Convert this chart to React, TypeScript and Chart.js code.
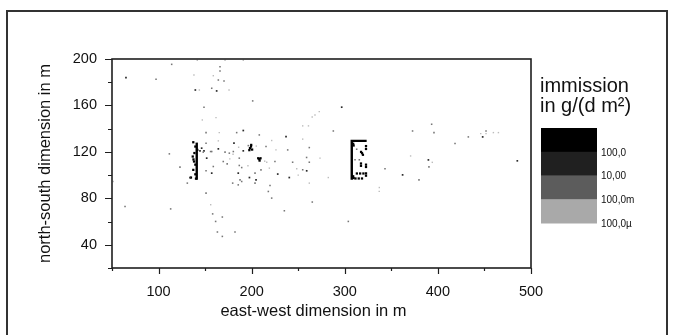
import React, { useEffect, useRef } from 'react';
import { Chart, registerables } from 'chart.js';

Chart.register(...registerables);

// ---- axis ranges / tick labels ----
const xRange = [50, 500];
const yRange = [20, 200];
const xStep = 50;
const yStep = 20;
const xLabelEvery = 100;
const yLabelEvery = 40;
const xTitle = 'east-west dimension in m';
const yTitle = 'north-south dimension in m';

// ---- legend (immission classes) ----
const legendTitle = ['immission', 'in g/(d m²)'];
const legendColors = ['#000000', '#202020', '#5c5c5c', '#a9a9a9'];
const legendLabels = ['100,0', '10,00', '100,0m', '100,0µ'];

// ---- immission cells, by class (x, y in m) ----
const lightPts = [
  [141.6, 198.9], [171.4, 198.9], [191, 198.9], [138, 186.2], [158.8, 185.6], [143.8, 173.3],
  [175.7, 173.3], [147, 147.5], [161.7, 149.5], [165.2, 136.6], [164.2, 129.5], [180, 118],
  [156, 74.5], [51.4, 94.5], [272.6, 154.7], [268, 151.8], [265, 150], [254.8, 142.4],
  [261, 142.4], [226.1, 121.7], [216.2, 111.1], [273.4, 114.6], [248.4, 105.5], [261.9, 93.1],
  [282.3, 97.9], [337.1, 89.3], [337, 86], [459.6, 136.6], [465, 136.6], [446, 135.7],
  [451.7, 135.7], [370.7, 116.5], [394, 111], [221.5, 129.8], [254.8, 131], [186, 124],
  [214, 112], [219, 106], [205, 125], [176.5, 114], [196, 108], [250, 100],
];
const midPts = [
  [114.1, 195.4], [97.3, 182.5], [166, 193.4], [166, 189.7], [164.2, 181.9], [170.3, 181],
  [157.1, 174.8], [148.8, 158.5], [151, 136.6], [183.9, 136.6], [151, 127.5], [155.9, 120.3],
  [148, 119.8], [157.1, 120.3], [171.4, 119.8], [176, 118.9], [196.4, 125.4], [169.5, 111.7],
  [173.7, 109.7], [158.8, 107.4], [151, 103.7], [189.3, 106.5], [187.5, 95.9], [185.6, 91.6],
  [179.6, 93.1], [111.6, 118.3], [123, 106.9], [130.9, 93.1], [64, 72.9], [113, 70.9],
  [151, 84.5], [158.1, 66.6], [168.5, 63.9], [161.3, 60.1], [163.2, 51], [168.5, 47.2],
  [182.1, 51], [201.1, 163.9], [287.7, 138], [208.2, 134.6], [238.7, 121.7], [261.9, 123.7],
  [225, 111.7], [244, 111.1], [261.9, 111.1], [254.8, 104.6], [210, 104.5], [203.6, 101.7],
  [203.6, 93.1], [219.7, 91], [217.9, 85.9], [221.5, 80.2], [265.1, 76.8], [235.1, 69.3],
  [303.8, 60.1], [343.2, 105.4], [393.3, 143.8], [372.8, 138], [395.8, 136.6], [451.7, 138],
  [432.7, 132.9], [418.4, 127.2], [390.4, 107.1], [379.7, 95.9], [215.4, 124.6], [180.3, 120.3],
  [189.3, 94.5], [186.7, 108.3], [186.7, 114.6], [259, 115.2], [312.8, 122.3], [311, 113.2],
  [315.6, 113.2],
];
const darkPts = [
  [65, 183.9], [139.5, 173.3], [162.4, 172.5], [146.3, 123.2], [164.2, 122.6], [151.7, 114.6],
  [181, 127.5], [191, 120.9], [157.1, 101.7], [185.6, 101.7], [133.8, 97.9], [296.7, 158.5],
  [236.9, 133.2], [228, 100.9], [240.4, 97.9], [204.7, 95.9], [259.1, 103.7], [197.6, 97.9],
  [191, 138.4], [389.8, 113.1], [485.3, 112.3], [362.1, 100.2], [448.1, 132.9], [148.8, 120.9],
  [144.5, 120.9],
];
const blackPts = [
  [137.3, 128.3], [139.5, 124.6], [141.6, 121.7], [136.7, 116], [138.1, 111.7], [139.5, 109],
  [137.3, 104.5], [139.5, 100.7], [134.8, 97.9], [140.2, 97], [138.5, 119], [137.5, 113.5],
  [198.2, 123.2], [199.3, 124.6], [200.5, 122], [197.5, 121.5], [199.5, 126],
  [208.2, 113.8], [209.5, 114.5], [207, 114.5], [208.5, 112.5],
  [318.5, 118.9], [317.5, 120], [319.5, 117.5], [317.4, 110], [317.4, 108], [313, 101.4],
  [316.5, 101.4], [320, 101.4], [311.5, 97.1], [315, 97.1], [318.5, 97.1], [322.8, 125],
  [322.8, 122.5], [322.8, 109], [322.8, 107], [322.8, 101.5], [322.8, 99.5], [309, 99],
  [309.5, 97.5], [309, 127], [309.5, 125.5],
];
// building outlines
const buildingLeft = [[141, 96], [141, 128]];
const buildingRight = [[307.5, 96], [307.5, 129.5], [323.5, 129.5]];

const FONT = "'Liberation Sans', Arial, Helvetica, sans-serif";

const toXY = (arr: number[][]) => arr.map(([x, y]) => ({ x, y }));

const axesPlugin = {
  id: 'axesFrame',
  afterDatasetsDraw(chart: any) {
    const { ctx, chartArea: a, scales } = chart;
    const xs = scales.x;
    const ys = scales.y;
    ctx.save();
    ctx.strokeStyle = '#1e1e1e';
    ctx.lineWidth = 1.6;
    ctx.strokeRect(a.left, a.top, a.right - a.left, a.bottom - a.top);
    ctx.lineWidth = 1.2;
    ctx.beginPath();
    xs.ticks.forEach((t: any) => {
      const px = Math.round(xs.getPixelForValue(t.value)) + 0.5;
      const len = t.value % xLabelEvery === 0 ? 6 : 3;
      ctx.moveTo(px, a.bottom);
      ctx.lineTo(px, a.bottom + len);
    });
    ys.ticks.forEach((t: any) => {
      const py = Math.round(ys.getPixelForValue(t.value)) + 0.5;
      const len = t.value % yLabelEvery === 0 ? 7 : 4;
      ctx.moveTo(a.left, py);
      ctx.lineTo(a.left - len, py);
    });
    ctx.stroke();
    // x-axis title
    ctx.fillStyle = '#111';
    ctx.font = `16.5px ${FONT}`;
    ctx.textAlign = 'center';
    ctx.textBaseline = 'middle';
    ctx.fillText(xTitle, (a.left + a.right) / 2 - 8, a.bottom + 43);
    ctx.restore();
  },
};

const legendPlugin = {
  id: 'immissionLegend',
  afterDraw(chart: any) {
    const { ctx, chartArea: a } = chart;
    ctx.save();
    ctx.fillStyle = '#111';
    ctx.font = `20px ${FONT}`;
    ctx.textAlign = 'left';
    ctx.textBaseline = 'alphabetic';
    const tx = a.right + 9;
    legendTitle.forEach((t, i) => ctx.fillText(t, tx, a.top + 33 + i * 20));
    const boxL = a.right + 10;
    const boxT = a.top + 69;
    const boxW = 56;
    const bandH = 23.8;
    legendColors.forEach((c, i) => {
      ctx.fillStyle = c;
      ctx.fillRect(boxL, boxT + i * bandH, boxW, bandH + 0.3);
    });
    ctx.fillStyle = '#111';
    ctx.font = `10px ${FONT}`;
    ctx.textBaseline = 'middle';
    legendLabels.forEach((l, i) => ctx.fillText(l, boxL + boxW + 4, boxT + (i + 1) * bandH + 1));
    ctx.restore();
  },
};

export default function App() {
  const canvasRef = useRef<HTMLCanvasElement | null>(null);

  useEffect(() => {
    if (!canvasRef.current) return;
    const pointDs = (pts: number[][], color: string, r: number) => ({
      type: 'scatter' as const,
      data: toXY(pts),
      backgroundColor: color,
      borderWidth: 0,
      pointStyle: 'rect' as const,
      pointRadius: r,
      pointHoverRadius: r,
    });
    const lineDs = (pts: number[][]) => ({
      type: 'line' as const,
      data: toXY(pts),
      borderColor: '#000',
      borderWidth: 2.4,
      pointRadius: 0,
      fill: false,
      tension: 0,
    });
    const chart = new Chart(canvasRef.current, {
      type: 'scatter',
      data: {
        datasets: [
          pointDs(lightPts, '#bdbdbd', 1.0),
          pointDs(midPts, '#777777', 1.1),
          pointDs(darkPts, '#2a2a2a', 1.2),
          pointDs(blackPts, '#000000', 1.6),
          lineDs(buildingLeft),
          lineDs(buildingRight),
        ] as any,
      },
      options: {
        responsive: false,
        animation: false,
        events: [],
        devicePixelRatio: 1,
        layout: { padding: { top: 59, right: 143, bottom: 0, left: 0 } },
        plugins: { legend: { display: false }, tooltip: { enabled: false } },
        scales: {
          x: {
            type: 'linear',
            min: xRange[0],
            max: xRange[1],
            grid: { display: false, drawTicks: false },
            border: { display: false },
            afterFit: (s: any) => { s.height = 67; },
            ticks: {
              stepSize: xStep,
              autoSkip: false,
              maxRotation: 0,
              padding: 15,
              color: '#111',
              font: { family: FONT, size: 14.5 },
              callback: (v: any) => (Number(v) % xLabelEvery === 0 ? String(v) : ''),
            },
            title: { display: false, text: xTitle },
          },
          y: {
            type: 'linear',
            min: yRange[0],
            max: yRange[1],
            grid: { display: false, drawTicks: false },
            border: { display: false },
            afterFit: (s: any) => { s.width = 112; },
            ticks: {
              stepSize: yStep,
              autoSkip: false,
              padding: 15,
              color: '#111',
              font: { family: FONT, size: 14.5 },
              callback: (v: any) => (Number(v) % yLabelEvery === 0 ? String(v) : ''),
            },
            title: {
              display: true,
              text: yTitle,
              color: '#111',
              font: { family: FONT, size: 16.5 },
              padding: { top: 36, bottom: 0 },
            },
          },
        },
      },
      plugins: [axesPlugin, legendPlugin],
    } as any);
    return () => chart.destroy();
  }, []);

  return (
    <div style={{ position: 'fixed', left: 0, top: 0, width: 674, height: 335, background: '#fff', overflow: 'hidden' }}>
      <div
        style={{
          position: 'absolute',
          left: 6,
          top: 10,
          width: 658,
          height: 400,
          borderLeft: '2px solid #333',
          borderTop: '2px solid #333',
          borderRight: '2px solid #333',
        }}
      />
      <canvas
        ref={canvasRef}
        width={674}
        height={335}
        style={{ position: 'absolute', left: 0, top: 0, width: 674, height: 335, display: 'block' }}
      />
    </div>
  );
}
